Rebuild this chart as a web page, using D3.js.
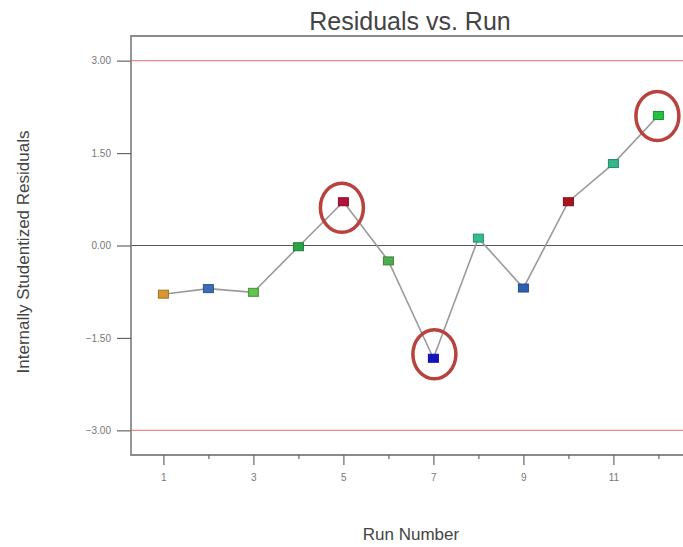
<!DOCTYPE html>
<html>
<head>
<meta charset="utf-8">
<script src="https://cdn.jsdelivr.net/npm/d3@7"></script>
<style>
  html, body { margin: 0; padding: 0; background: #fff; }
  svg { display: block; font-family: "Liberation Sans", Arial, sans-serif; }
</style>
</head>
<body>
<svg id="chart" width="683" height="547"></svg>
<script>
// Run order and internally studentized residuals
const runs = [1, 2, 3, 4, 5, 6, 7, 8, 9, 10, 11, 12];
const residuals = [-0.79, -0.70, -0.76, -0.02, 0.71, -0.25, -1.83, 0.12, -0.69, 0.71, 1.33, 2.11];
const pointColors = ["#d8962e", "#3b6db8", "#62c44c", "#2aa447", "#b3123a", "#4cae4e",
                     "#1414c4", "#33bd8c", "#2d5fb3", "#a9121f", "#34b68b", "#24c143"];
// Runs whose residuals are flagged with a ring, and each ring's nudge in px
const flaggedRuns = [5, 7, 12];
const ringNudge = [[-1.5, 6], [1, -4], [-1, 0.5]];
// Control limits and axis ticks
const limits = [3, -3];
const yTicks = [3, 1.5, 0, -1.5, -3];
const xMajorTicks = [1, 3, 5, 7, 9, 11];
const xMinorTicks = [2, 4, 6, 8, 10, 12];

const svg = d3.select("#chart");
const plotLeft = 131, plotTop = 36, plotBottom = 455, plotRight = 700;

const x = d3.scaleLinear().domain([0.28, 12.9]).range([plotLeft, plotLeft + 45 * 12.62]);
const y = d3.scaleLinear().domain([-3.4, 3.4]).range([plotBottom, plotTop]);

// Title and axis titles
svg.append("text").attr("x", 410).attr("y", 30).attr("text-anchor", "middle")
  .attr("font-size", 25).attr("fill", "#444").text("Residuals vs. Run");
svg.append("text").attr("x", 411).attr("y", 540).attr("text-anchor", "middle")
  .attr("font-size", 17).attr("fill", "#444").text("Run Number");
svg.append("text").attr("transform", "translate(29,252) rotate(-90)")
  .attr("text-anchor", "middle").attr("font-size", 17).attr("fill", "#444")
  .text("Internally Studentized Residuals");

// Reference lines: control limits and zero
svg.selectAll("line.limit").data(limits).enter().append("line")
  .attr("class", "limit")
  .attr("x1", plotLeft).attr("x2", plotRight)
  .attr("y1", d => y(d)).attr("y2", d => y(d))
  .attr("stroke", "#ef8a8a").attr("stroke-width", 1.4);
svg.append("line").attr("x1", plotLeft).attr("x2", plotRight)
  .attr("y1", y(0)).attr("y2", y(0))
  .attr("stroke", "#555").attr("stroke-width", 1.2);

// Frame
svg.append("path")
  .attr("d", `M${plotRight},${plotTop}H${plotLeft}V${plotBottom}H${plotRight}`)
  .attr("fill", "none").attr("stroke", "#8a8a8a").attr("stroke-width", 1.8);

// Y axis
const yAxis = d3.axisLeft(y).tickValues(yTicks).tickFormat(d3.format(".2f"))
  .tickSize(14).tickPadding(6);
const gy = svg.append("g").attr("transform", `translate(${plotLeft},0)`).call(yAxis);
gy.select(".domain").remove();
gy.selectAll(".tick line").attr("stroke", "#666").attr("stroke-width", 1.2);
gy.selectAll(".tick text").attr("font-size", 10).attr("fill", "#777")
  .attr("font-family", "'Liberation Sans', Arial, sans-serif");

// X axis: labelled odd runs, short unlabeled even ticks
const xAxis = d3.axisBottom(x).tickValues(xMajorTicks).tickFormat(d3.format("d"))
  .tickSize(10).tickPadding(9);
const gx = svg.append("g").attr("transform", `translate(0,${plotBottom})`).call(xAxis);
gx.select(".domain").remove();
gx.selectAll(".tick line").attr("stroke", "#666").attr("stroke-width", 1.2);
gx.selectAll(".tick text").attr("font-size", 10).attr("fill", "#777")
  .attr("font-family", "'Liberation Sans', Arial, sans-serif");
const xMinor = d3.axisBottom(x).tickValues(xMinorTicks).tickFormat("").tickSize(4);
const gxm = svg.append("g").attr("transform", `translate(0,${plotBottom})`).call(xMinor);
gxm.select(".domain").remove();
gxm.selectAll(".tick line").attr("stroke", "#666").attr("stroke-width", 1.2);

// Connecting line
const line = d3.line().x((d, i) => x(runs[i])).y(d => y(d));
svg.append("path").datum(residuals).attr("d", line)
  .attr("fill", "none").attr("stroke", "#9a9a9a").attr("stroke-width", 1.6);

// Square markers
const w = 10, h = 8;
svg.selectAll("rect.pt").data(residuals).enter().append("rect")
  .attr("class", "pt")
  .attr("x", (d, i) => x(runs[i]) - w / 2)
  .attr("y", d => y(d) - h / 2)
  .attr("width", w).attr("height", h)
  .attr("fill", (d, i) => pointColors[i])
  .attr("stroke", (d, i) => d3.color(pointColors[i]).darker(0.8))
  .attr("stroke-width", 1);

// Rings around flagged runs
svg.selectAll("ellipse.flag").data(flaggedRuns).enter().append("ellipse")
  .attr("class", "flag")
  .attr("cx", (r, i) => x(r) + ringNudge[i][0])
  .attr("cy", (r, i) => y(residuals[r - 1]) + ringNudge[i][1])
  .attr("rx", 21.5).attr("ry", 24.5)
  .attr("fill", "none").attr("stroke", "#b9413e").attr("stroke-width", 3.5);
</script>
</body>
</html>
